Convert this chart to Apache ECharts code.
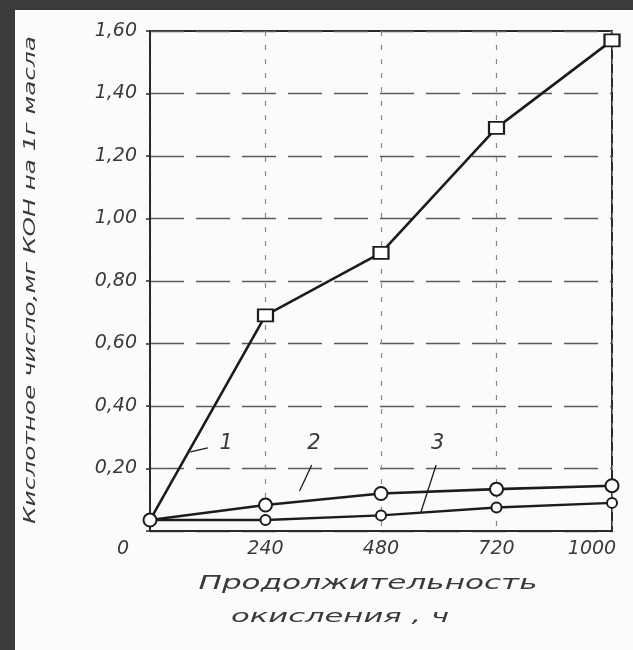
<!DOCTYPE html>
<html>
<head>
<meta charset="utf-8">
<script src="https://cdn.jsdelivr.net/npm/echarts@6/dist/echarts.min.js"></script>
<style>
  html, body { margin: 0; padding: 0; background: #3b3b3b; }
  #sheet { position: absolute; left: 15px; top: 10px; width: 618px; height: 640px; background: #fbfbfb; }
  #main { position: absolute; left: 0; top: 0; width: 633px; height: 650px; }
</style>
</head>
<body>
<div id="sheet"></div>
<div id="main"></div>
<script>
// продолжительность окисления, ч (точки идут через равные промежутки)
var hours = ['0', '240', '480', '720', '1000'];
// кислотное число, мг КОН на 1 г масла
var acid1 = [0.035, 0.69, 0.89, 1.29, 1.57];
var acid2 = [0.035, 0.083, 0.12, 0.134, 0.145];
var acid3 = [0.035, 0.035, 0.05, 0.075, 0.09];
var curveNames = ['1', '2', '3'];

var ink = '#1c1c1c';
var textInk = '#3a3a3a';
var fontFamily = 'DejaVu Sans';

function pairs(arr) {
    return arr.map(function (v, i) { return [i, v]; });
}

// stretch the wide stencil lettering to the width seen in the scan
function stretch(text, size, target) {
    var ctx = document.createElement('canvas').getContext('2d');
    ctx.font = 'italic ' + size + 'px "' + fontFamily + '"';
    return target / ctx.measureText(text).width;
}

var xTitle1 = 'Продолжительность';
var xTitle2 = 'окисления , ч';
var yTitle = 'Кислотное число,мг КОН на 1г масла';

function leader(a, b) {
    return {
        symbol: 'none',
        silent: true,
        lineStyle: { color: ink, width: 1.3, type: 'solid' },
        label: { show: false },
        data: [[{ coord: a }, { coord: b }]]
    };
}

function tag(text, at) {
    return {
        symbol: 'circle',
        symbolSize: 1,
        silent: true,
        itemStyle: { color: 'rgba(0,0,0,0)' },
        label: {
            show: true,
            position: 'inside',
            formatter: text,
            color: textInk,
            fontSize: 21,
            fontStyle: 'italic',
            fontFamily: fontFamily
        },
        data: [{ coord: at }]
    };
}

var chart = echarts.init(document.getElementById('main'));

var option = {
    backgroundColor: 'transparent',
    animation: false,
    grid: {
        left: 150,
        right: 21,
        top: 31,
        bottom: 119,
        show: true,
        borderColor: '#2a2a2a',
        borderWidth: 2,
        backgroundColor: 'transparent'
    },
    xAxis: {
        type: 'value',
        min: 0,
        max: 4,
        interval: 1,
        axisLine: { lineStyle: { color: '#2a2a2a', width: 2 } },
        axisTick: { show: false },
        splitLine: {
            show: true,
            lineStyle: { color: '#8a8a8a', width: 1.2, type: [5, 9] }
        },
        axisLabel: {
            margin: 9,
            color: textInk,
            fontSize: 19,
            fontStyle: 'italic',
            fontFamily: fontFamily,
            formatter: function (v) {
                var s = hours[v];
                if (v === 0) return '{lo|' + s + '}';
                if (v === hours.length - 1) return '{hi|' + s + '}';
                return s;
            },
            rich: {
                lo: { padding: [0, 54, 0, 0], color: textInk, fontSize: 19, fontStyle: 'italic', fontFamily: fontFamily },
                hi: { padding: [0, 40, 0, 0], color: textInk, fontSize: 19, fontStyle: 'italic', fontFamily: fontFamily }
            }
        }
    },
    yAxis: {
        type: 'value',
        min: 0,
        max: 1.6,
        interval: 0.2,
        axisLine: { show: true, lineStyle: { color: '#2a2a2a', width: 2 } },
        axisTick: { show: true, length: 4, lineStyle: { color: '#2a2a2a', width: 1.5 } },
        splitLine: {
            show: true,
            lineStyle: { color: '#5a5a5a', width: 1.4, type: [34, 12] }
        },
        axisLabel: {
            margin: 13,
            color: textInk,
            fontSize: 19,
            fontStyle: 'italic',
            fontFamily: fontFamily,
            formatter: function (v) {
                if (v === 0) return '';
                return v.toFixed(2).replace('.', ',');
            }
        }
    },
    graphic: [
        {
            type: 'text',
            x: 368,
            y: 584,
            scaleX: stretch(xTitle1, 19, 339),
            silent: true,
            style: {
                text: xTitle1,
                fill: textInk,
                font: 'italic 19px "' + fontFamily + '"',
                align: 'center',
                verticalAlign: 'middle'
            }
        },
        {
            type: 'text',
            x: 340,
            y: 618,
            scaleX: stretch(xTitle2, 17, 218),
            silent: true,
            style: {
                text: xTitle2,
                fill: textInk,
                font: 'italic 17px "' + fontFamily + '"',
                align: 'center',
                verticalAlign: 'middle'
            }
        },
        {
            type: 'text',
            x: 31,
            y: 280,
            rotation: Math.PI / 2,
            scaleX: stretch(yTitle, 16, 488),
            silent: true,
            style: {
                text: yTitle,
                fill: textInk,
                font: 'italic 16px "' + fontFamily + '"',
                align: 'center',
                verticalAlign: 'middle'
            }
        }
    ],
    series: [
        {
            name: curveNames[0],
            type: 'line',
            data: pairs(acid1),
            symbol: function (val, params) { return params.dataIndex === 0 ? 'none' : 'rect'; },
            symbolSize: [15, 12],
            lineStyle: { color: ink, width: 2.6 },
            itemStyle: { color: '#ffffff', borderColor: ink, borderWidth: 2 },
            z: 3,
            markLine: leader([0.35, 0.253], [0.5, 0.266]),
            markPoint: tag(curveNames[0], [0.66, 0.28])
        },
        {
            name: curveNames[1],
            type: 'line',
            data: pairs(acid2),
            symbol: 'circle',
            symbolSize: 13,
            lineStyle: { color: ink, width: 2.6 },
            itemStyle: { color: '#ffffff', borderColor: ink, borderWidth: 2 },
            z: 4,
            markLine: leader([1.40, 0.211], [1.295, 0.128]),
            markPoint: tag(curveNames[1], [1.42, 0.28])
        },
        {
            name: curveNames[2],
            type: 'line',
            data: pairs(acid3),
            symbol: function (val, params) { return params.dataIndex === 0 ? 'none' : 'circle'; },
            symbolSize: 10,
            lineStyle: { color: ink, width: 2.4 },
            itemStyle: { color: '#ffffff', borderColor: ink, borderWidth: 2 },
            z: 3,
            markLine: leader([2.477, 0.211], [2.346, 0.061]),
            markPoint: tag(curveNames[2], [2.49, 0.28])
        }
    ]
};

chart.setOption(option);
</script>
</body>
</html>
